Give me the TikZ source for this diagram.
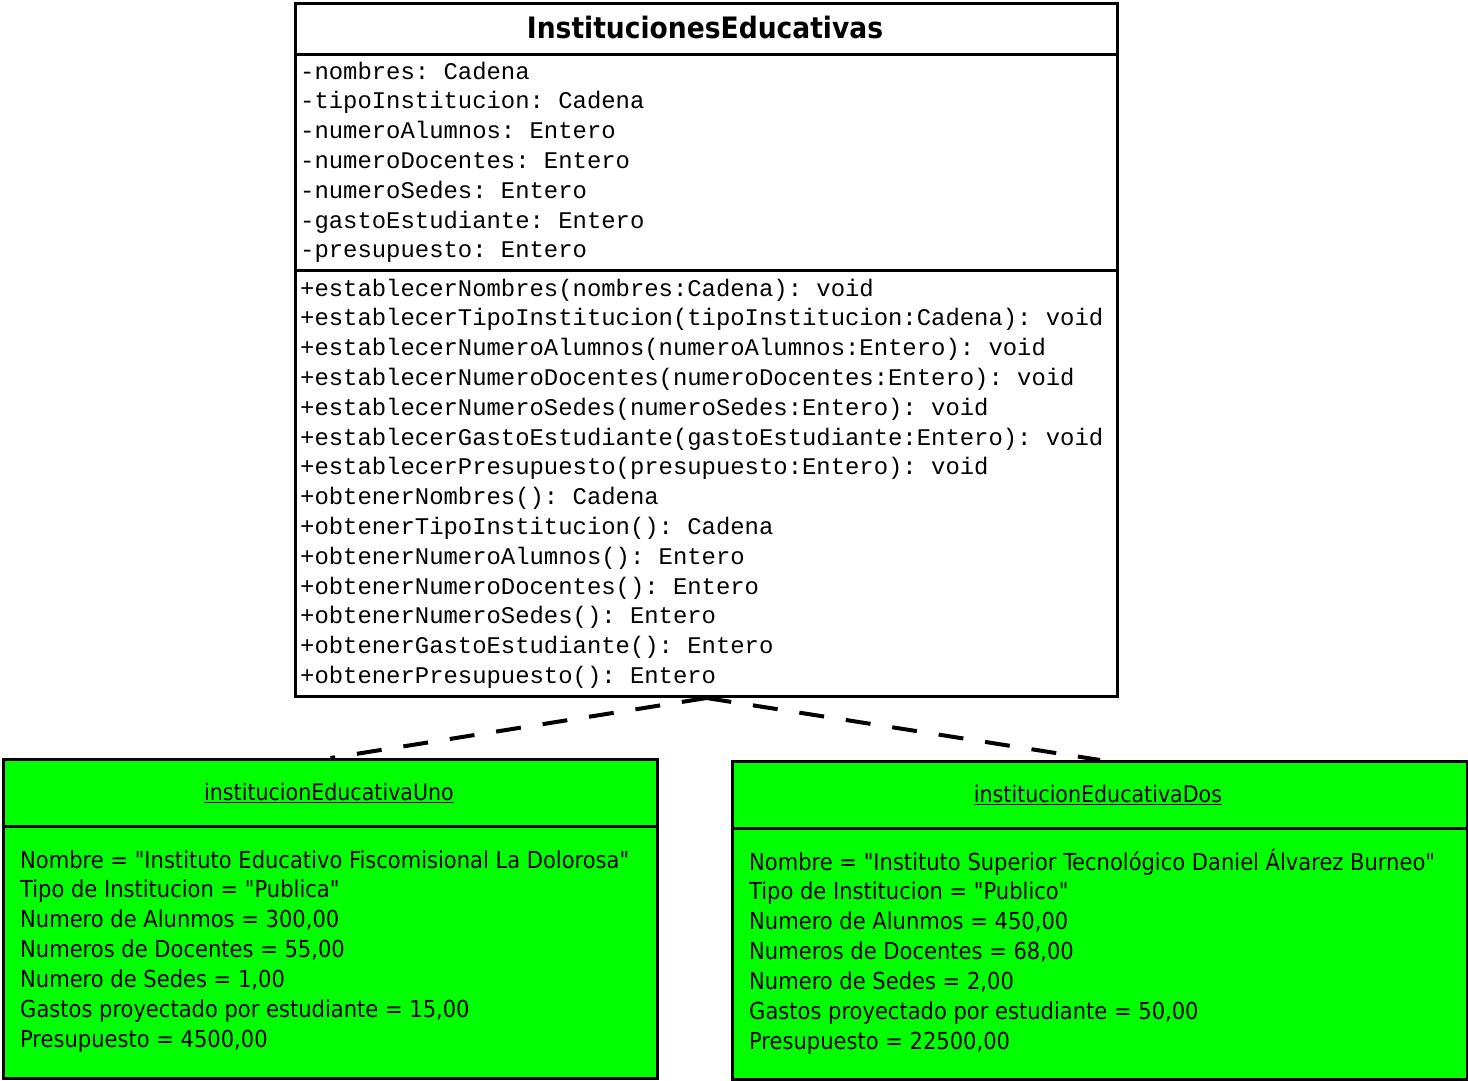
\documentclass[tikz,border=0pt]{standalone}
\usepackage{fontspec}
\setmainfont{DejaVu Sans Condensed}[Ligatures=TeXOff]
\setmonofont{Liberation Mono}[Ligatures=TeXOff]
\usetikzlibrary{arrows.meta}
\definecolor{objgreen}{RGB}{0,255,0}
\tikzset{
  box/.style={draw=black, line width=3pt, inner sep=0pt, anchor=north west},
  attr/.style={anchor=base west, inner sep=0pt, font=\fontsize{23.9}{28}\selectfont\ttfamily},
  val/.style={anchor=base west, inner sep=0pt, font=\fontsize{23.4}{28}\selectfont},
  dep/.style={line width=4pt, dash pattern=on 25pt off 22pt},
}
\begin{document}
\begin{tikzpicture}[x=1pt,y=-1pt]
\useasboundingbox (0,0) rectangle (1468,1080);
% class box
\node[box, minimum width=822pt, minimum height=693pt] (cls) at (294,2) {};
\draw[line width=3pt] (294,54) -- (1116,54);
\draw[line width=3pt] (294,270) -- (1116,270);
\node[inner sep=0pt, anchor=base, font=\fontsize{29.5}{32}\selectfont\bfseries] (title) at (705,38) {InstitucionesEducativas};
\foreach \t [count=\i] in {-nombres: Cadena,-tipoInstitucion: Cadena,-numeroAlumnos: Entero,-numeroDocentes: Entero,-numeroSedes: Entero,-gastoEstudiante: Entero,-presupuesto: Entero}
  \node[attr] (a\i) at (300,{79+29.8*(\i-1)}) {\t};
\foreach \t [count=\i] in {+establecerNombres(nombres:Cadena): void,+establecerTipoInstitucion(tipoInstitucion:Cadena): void,+establecerNumeroAlumnos(numeroAlumnos:Entero): void,+establecerNumeroDocentes(numeroDocentes:Entero): void,+establecerNumeroSedes(numeroSedes:Entero): void,+establecerGastoEstudiante(gastoEstudiante:Entero): void,+establecerPresupuesto(presupuesto:Entero): void,+obtenerNombres(): Cadena,+obtenerTipoInstitucion(): Cadena,+obtenerNumeroAlumnos(): Entero,+obtenerNumeroDocentes(): Entero,+obtenerNumeroSedes(): Entero,+obtenerGastoEstudiante(): Entero,+obtenerPresupuesto(): Entero}
  \node[attr] (m\i) at (300,{296+29.8*(\i-1)}) {\t};
% object one
\node[box, fill=objgreen, minimum width=654pt, minimum height=319pt] (uno) at (2,758) {};
\draw[line width=3pt] (2,826) -- (656,826);
\node[inner sep=0pt, anchor=base, font=\fontsize{22.9}{26}\selectfont] (unoT) at (329,800) {\underline{institucionEducativaUno}};
\foreach \t [count=\i] in {Nombre = "Instituto Educativo Fiscomisional La Dolorosa",Tipo de Institucion = "Publica",Numero de Alunmos = 300{,}00,Numeros de Docentes = 55{,}00,Numero de Sedes = 1{,}00,Gastos proyectado por estudiante = 15{,}00,Presupuesto = 4500{,}00}
  \node[val] (u\i) at (20,{868+29.9*(\i-1)}) {\t};
% object two
\node[box, fill=objgreen, minimum width=735pt, minimum height=318pt] (dos) at (731,760) {};
\draw[line width=3pt] (731,828) -- (1466,828);
\node[inner sep=0pt, anchor=base, font=\fontsize{22.9}{26}\selectfont] (dosT) at (1098,802) {\underline{institucionEducativaDos}};
\foreach \t [count=\i] in {Nombre = "Instituto Superior Tecnológico Daniel Álvarez Burneo",Tipo de Institucion = "Publico",Numero de Alunmos = 450{,}00,Numeros de Docentes = 68{,}00,Numero de Sedes = 2{,}00,Gastos proyectado por estudiante = 50{,}00,Presupuesto = 22500{,}00}
  \node[val] (d\i) at (749,{870+29.9*(\i-1)}) {\t};
% dependencies
\draw[dep] (cls.south) -- (uno.north);
\draw[dep] (cls.south) -- (dos.north);
\end{tikzpicture}
\end{document}
